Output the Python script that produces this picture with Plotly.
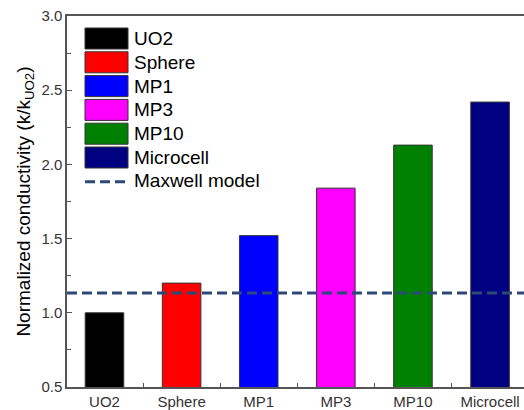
import plotly.graph_objects as go

categories = ["UO2", "Sphere", "MP1", "MP3", "MP10", "Microcell"]
values = [1.00, 1.20, 1.52, 1.84, 2.13, 2.42]
colors = ["#000000", "#ff0000", "#0000ff", "#ff00ff", "#008000", "#000080"]
maxwell_value = 1.133
maxwell_label = "Maxwell model"
y_ticks = [0.5, 1.0, 1.5, 2.0, 2.5, 3.0]
y_tick_labels = ["0.5", "1.0", "1.5", "2.0", "2.5", "3.0"]

W, H = 524, 410
L, R, T, B = 67, 0, 16, 23
FONT = "Liberation Sans, Arial, sans-serif"
LINE_COL = "#2c4a78"

fig = go.Figure()
fig.add_trace(go.Bar(
    x=categories, y=values, width=0.5,
    marker=dict(color=colors, line=dict(color="#333333", width=1)),
    showlegend=False,
))

pw = W - L - R
ph = H - T - B

def px(x):
    return (x - L) / pw

def py(y):
    return 1 - (y - T) / ph

shapes = [dict(type="line", xref="paper", yref="y", x0=0, x1=1,
               y0=maxwell_value, y1=maxwell_value, layer="above",
               line=dict(color=LINE_COL, width=3, dash="10px,5px"))]
annotations = []
row0 = 38.5
step = 23.8
for i, (name, col) in enumerate(zip(categories, colors)):
    yc = row0 + i * step
    shapes.append(dict(type="rect", xref="paper", yref="paper",
                       x0=px(85), x1=px(128), y0=py(yc - 10.5), y1=py(yc + 10.5),
                       fillcolor=col, line=dict(color="#333333", width=1)))
    annotations.append(dict(xref="paper", yref="paper", x=px(132), y=py(yc),
                            text=name, showarrow=False, xanchor="left", yanchor="middle",
                            font=dict(family=FONT, size=19, color="#000000")))
yc = row0 + len(categories) * step + 0.5
shapes.append(dict(type="line", xref="paper", yref="paper",
                   x0=px(85), x1=px(128), y0=py(yc), y1=py(yc),
                   line=dict(color=LINE_COL, width=3, dash="10px,5px")))
annotations.append(dict(xref="paper", yref="paper", x=px(132), y=py(yc - 1.5),
                        text=maxwell_label, showarrow=False, xanchor="left", yanchor="middle",
                        font=dict(family=FONT, size=19, color="#000000")))

fig.update_layout(
    width=W, height=H,
    margin=dict(l=L, r=R, t=T, b=B, pad=0),
    paper_bgcolor="white", plot_bgcolor="white",
    font=dict(family=FONT, size=15, color="#333333"),
    shapes=shapes, annotations=annotations,
)
fig.update_xaxes(
    range=[-0.486, 5.44], showgrid=False, zeroline=False,
    showline=True, linecolor="#555555", linewidth=1.5, mirror=True,
    ticks="inside", tickson="boundaries", ticklen=4, tickcolor="#555555",
    tickfont=dict(family=FONT, size=15, color="#333333"),
)
fig.update_yaxes(
    range=[0.5, 3.0], showgrid=False, zeroline=False,
    showline=True, linecolor="#555555", linewidth=1.5,
    ticks="inside", ticklen=5, tickcolor="#555555",
    tickvals=y_ticks, ticktext=y_tick_labels,
    minor=dict(ticks="inside", dtick=0.25, ticklen=4, tickcolor="#555555"),
    tickfont=dict(family=FONT, size=15, color="#333333"),
    title=dict(text="Normalized conductivity (k/k<sub>UO2</sub>)",
               font=dict(family=FONT, size=19, color="#000000"), standoff=6),
)

fig.write_html("out.html")
